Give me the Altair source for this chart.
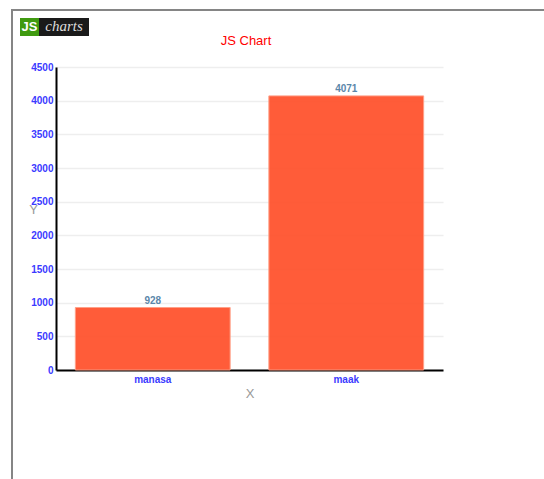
import altair as alt
import pandas as pd

categories = ["manasa", "maak"]
values = [928, 4071]
y_ticks = [0, 500, 1000, 1500, 2000, 2500, 3000, 3500, 4000, 4500]

df = pd.DataFrame({"name": categories, "value": values})

FONT = "Liberation Sans"
LABEL_BLUE = "#3b3bff"

x_enc = alt.X("name:N", sort=categories,
              scale=alt.Scale(paddingInner=0.2, paddingOuter=0.1),
              axis=alt.Axis(title="X", labelAngle=0, ticks=False, domainColor="#000000",
                            domainWidth=2, labelColor=LABEL_BLUE, labelFont=FONT,
                            labelFontWeight="bold", labelFontSize=10, labelPadding=4,
                            titleColor="#999999", titleFont=FONT, titleFontWeight="normal",
                            titleFontSize=13, titleBaseline="middle", titleY=23))
y_enc = alt.Y("value:Q", scale=alt.Scale(domain=[0, 4500], nice=False),
              axis=alt.Axis(title="Y", values=y_ticks, format="d", ticks=False,
                            domainColor="#000000",
                            domainWidth=2, gridColor="#eeeeee", gridWidth=1.5,
                            labelColor=LABEL_BLUE, labelFont=FONT, labelFontWeight="bold",
                            labelFontSize=10, labelPadding=3, titleColor="#999999",
                            titleFont=FONT, titleFontWeight="normal", titleFontSize=13,
                            titleAngle=0, titleAlign="center", titleBaseline="middle",
                            titleX=-23, titleY=142))

base = alt.Chart(df)

bars = base.mark_bar(color="#ff5733", stroke="#ff9d85", strokeWidth=1, opacity=0.97).encode(
    x=x_enc, y=y_enc)

text = base.mark_text(baseline="bottom", dy=-2, font=FONT, fontSize=10,
                      fontWeight="bold", color="#5b87aa").encode(
    x=x_enc, y=y_enc, text="value:Q")

one = pd.DataFrame({"a": [0]})

# decorative page border (top and left)
border_top = alt.Chart(one).mark_rule(color="#858585", strokeWidth=2).encode(
    x=alt.value(-45), x2=alt.value(500), y=alt.value(-57))
border_left = alt.Chart(one).mark_rule(color="#858585", strokeWidth=2).encode(
    x=alt.value(-44), y=alt.value(-57), y2=alt.value(420))

# chart title
title = alt.Chart(pd.DataFrame({"t": ["JS Chart"]})).mark_text(
    font=FONT, fontSize=13, color="#ff0000", align="center", baseline="middle").encode(
    x=alt.value(190), y=alt.value(-26), text="t:N")

# JS charts logo
logo_green = alt.Chart(one).mark_rect(color="#3f9a10").encode(
    x=alt.value(-36), x2=alt.value(-17), y=alt.value(-49), y2=alt.value(-31))
logo_black = alt.Chart(one).mark_rect(color="#1a1a1a").encode(
    x=alt.value(-17), x2=alt.value(33), y=alt.value(-49), y2=alt.value(-31))
logo_js = alt.Chart(pd.DataFrame({"t": ["JS"]})).mark_text(
    font=FONT, fontSize=13, fontWeight="bold", color="#ffffff", align="center", baseline="middle").encode(
    x=alt.value(-26.5), y=alt.value(-40), text="t:N")
logo_charts = alt.Chart(pd.DataFrame({"t": ["charts"]})).mark_text(
    font="Liberation Serif", fontSize=15, fontStyle="italic", color="#dddddd", align="center",
    baseline="middle").encode(
    x=alt.value(8), y=alt.value(-41), text="t:N")

chart = alt.layer(bars, text, border_top, border_left, title, logo_green, logo_black, logo_js,
                  logo_charts).properties(
    width=387, height=303,
    autosize=alt.AutoSizeParams(type="none"),
    padding={"left": 56, "top": 67, "right": 101, "bottom": 109},
    background="#ffffff",
).configure_view(stroke=None)

chart.save("out.html", embed_options={"renderer": "svg", "actions": False})
